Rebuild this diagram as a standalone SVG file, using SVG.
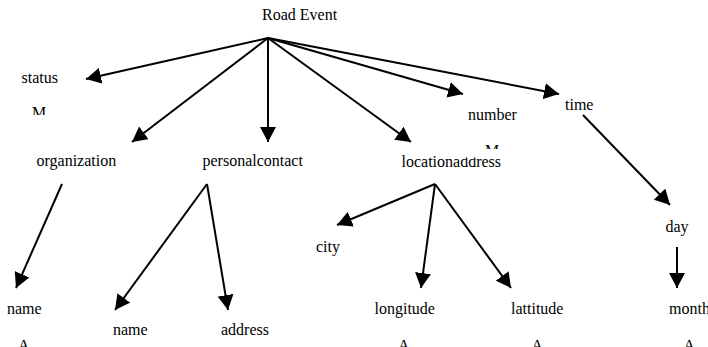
<svg xmlns="http://www.w3.org/2000/svg" width="708" height="347" viewBox="0 0 708 347">
<style>
  .lbl { font-family: 'Liberation Serif', 'DejaVu Serif', 'Times New Roman', Times, serif; font-size: 16px; fill: #000; }
  .edge { stroke: #000; stroke-width: 2; fill: none; marker-end: url(#arrow); }
  .mask { fill: #fff; stroke: none; }
</style>
<defs>
  <marker id="arrow" markerUnits="userSpaceOnUse" markerWidth="16" markerHeight="16" refX="15" refY="8" orient="auto" viewBox="0 0 16 16">
    <path d="M0,0 L15,8 L0,16 z" fill="#000"/>
  </marker>
</defs>
<rect width="708" height="347" fill="#fff"/>
<g id="connectors">
  <line class="edge" x1="268" y1="38" x2="86" y2="79"/>
  <line class="edge" x1="268" y1="38" x2="132" y2="142"/>
  <line class="edge" x1="268" y1="38" x2="268" y2="142"/>
  <line class="edge" x1="268" y1="38" x2="411" y2="142"/>
  <line class="edge" x1="268" y1="38" x2="463" y2="94"/>
  <line class="edge" x1="268" y1="38" x2="559" y2="94"/>
  <line class="edge" x1="583" y1="115" x2="670" y2="205"/>
  <line class="edge" x1="677" y1="247" x2="677" y2="288"/>
  <line class="edge" x1="62" y1="184" x2="16" y2="288"/>
  <line class="edge" x1="207" y1="184" x2="115" y2="310"/>
  <line class="edge" x1="207" y1="184" x2="228" y2="310"/>
  <line class="edge" x1="435" y1="184" x2="337" y2="225"/>
  <line class="edge" x1="435" y1="184" x2="421" y2="288"/>
  <line class="edge" x1="435" y1="184" x2="511" y2="288"/>
</g>
<g font-family="Liberation Serif, DejaVu Serif, serif" font-size="16">
<g id="road-event"><text class="lbl" x="262" y="20">Road Event</text></g>
<g id="status">
  <text class="lbl" x="21.5" y="83">status</text>
  <text class="lbl" x="32" y="117.5">M</text>
  <rect class="mask" x="25" y="115" width="30" height="12"/>
</g>
<g id="organization"><text class="lbl" x="36.5" y="166">organization</text></g>
<g id="personalcontact"><text class="lbl" x="202.5" y="166">personalcontact</text></g>
<g id="number"><text class="lbl" x="468" y="120">number</text></g>
<g id="time"><text class="lbl" x="565" y="110">time</text></g>
<g id="locationaddress">
  <text class="lbl" x="401.5" y="166.5">locationaddress</text>
  <text class="lbl" x="485" y="155.6">M</text>
  <rect class="mask" x="455" y="149" width="50" height="8.5"/>
</g>
<g id="name1"><text class="lbl" x="7" y="314">name</text><text class="lbl" x="18" y="351">A</text></g>
<g id="name2"><text class="lbl" x="113" y="335">name</text></g>
<g id="address"><text class="lbl" x="221" y="335">address</text></g>
<g id="city"><text class="lbl" x="316" y="251.5">city</text></g>
<g id="longitude"><text class="lbl" x="374.5" y="314">longitude</text><text class="lbl" x="398" y="351">A</text></g>
<g id="lattitude"><text class="lbl" x="511" y="314">lattitude</text><text class="lbl" x="531.5" y="351">A</text></g>
<g id="day"><text class="lbl" x="665.5" y="231.5">day</text></g>
<g id="month"><text class="lbl" x="669" y="314">month</text><text class="lbl" x="683.5" y="351">A</text></g>
</g>
</svg>
